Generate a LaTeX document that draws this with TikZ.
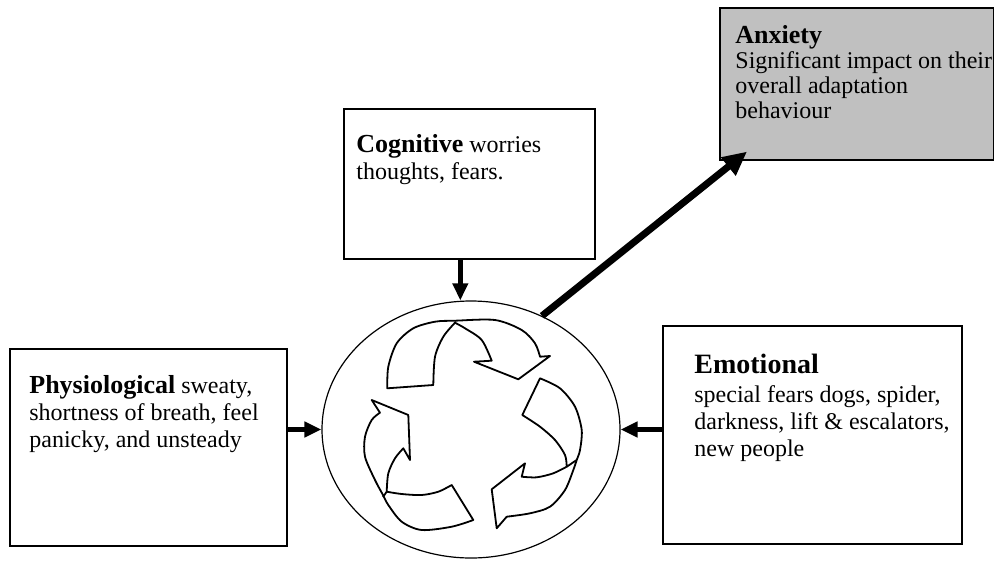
\documentclass[tikz,border=0pt]{standalone}
\usepackage{fontspec}
\setmainfont{Liberation Serif}
\usetikzlibrary{arrows.meta,shapes.geometric,positioning}
\definecolor{anxgray}{RGB}{192,192,192}
\newcommand{\hd}[1]{{\fontsize{13}{13.5}\selectfont\bfseries #1}}
\tikzset{
  box/.style={draw, line width=0.8pt, inner sep=0pt, anchor=north west},
  txt/.style={inner sep=0pt, anchor=north west, align=left, font=\fontsize{12}{13.5}\selectfont},
  arr/.style={line width=2.5pt, -{Triangle[length=8.5pt,width=7.5pt]}},
  bigarr/.style={line width=3.5pt, -{Triangle[length=12pt,width=11pt]}},
  recyc/.style={line width=0.9pt, line join=round, fill=white}
}

\begin{document}
\begin{tikzpicture}[x=0.5pt,y=-0.5pt]
	%%%%% START %%%%%
	\useasboundingbox (0,0) rectangle (994,562);
	
	\node[box, minimum width=138.5pt, minimum height=98.5pt] (phys) at (9,348) {};
	\node[txt] (physt) at (29,375) {\hd{Physiological} sweaty,\\ shortness of breath, feel\\ panicky, and unsteady};
	
	\node[box, minimum width=125.5pt, minimum height=75pt] (cog) at (343,108) {};
	\node[txt] (cogt) at (356,134) {\hd{Cognitive} worries\\ thoughts, fears.};
	
	\node[box, fill=anxgray, minimum width=137pt, minimum height=76pt] (anx) at (719,7) {};
	\node[txt, font=\fontsize{12}{12.5}\selectfont] (anxt) at (735,25) {\hd{Anxiety}\\ Significant impact on their\\ overall adaptation\\ behaviour};
	
	\node[box, minimum width=149.5pt, minimum height=109pt] (emo) at (662,325) {};
	\node[txt] (emot) at (694,354) {{\fontsize{14}{14}\selectfont\bfseries Emotional}\\[1pt] special fears dogs, spider,\\ darkness, lift \& escalators,\\ new people};
	
	\node[draw, ellipse, line width=0.6pt, inner sep=0pt, minimum width=149pt, minimum height=128.5pt] (cyc) at (471,429.5) {};
	
	% recycling arrows
	\draw[recyc] (387.3,388.3) -- plot[smooth] coordinates {(387.3,388.3) (388.3,366.7) (396.7,343.3) (413.3,328.3) (435,321.7) (455,320.7) (495,320) (521.7,330) (535,343.3) (540,356.7)}
		-- (550,356) -- (518.3,379.3) -- (474,361.7)
		-- plot[smooth] coordinates {(491.7,360.7) (481.7,340) (465,328.3) (455,322.7)}
		-- plot[smooth] coordinates {(455,322.7) (443.3,336.7) (435,356.7) (433.3,385)} -- cycle;
	
	\draw[recyc] (540,378.3) -- plot[smooth] coordinates {(540,378.3) (560,388.3) (575,406.7) (581.7,430) (580,450) (576.7,460) (573.3,470) (565,490) (550,506.7) (530,513.3) (506.7,516.7)}
		-- (496.7,528.3) -- (491.7,489.3) -- (525,463.3)
		-- plot[smooth] coordinates {(521.7,476.7) (536.7,477.3) (553.3,473.3) (566.7,466.7)}
		-- plot[smooth] coordinates {(566.7,466.7) (565,455) (555,440) (540,426.7) (522.3,415)} -- cycle;
	\draw[recyc] (566.7,466.7) -- (576.7,460);
	
	\draw[recyc] (473.3,520) -- plot[smooth] coordinates {(473.3,520) (451.7,526.7) (421.7,530) (401.7,521.7) (388.3,505) (383,495) (375,480) (365,456.7) (365,436.7) (371.7,420) (380,412.7)}
		-- (371.7,400) -- (408.3,415) -- (410,460)
		-- plot[smooth] coordinates {(403.3,448.3) (395,458.3) (388.3,473.3) (386.7,491.7)}
		-- plot[smooth] coordinates {(386.7,491.7) (401.7,494) (421.7,495) (438.3,491.7) (451.7,485)} -- cycle;
	\draw[recyc] (386.7,491.7) -- (383,497);
	
	% arrows into and out of the cycle
	\draw[arr] ([xshift=-4.5pt]cog.south) -- ([xshift=-4.5pt]cog.south |- cyc.north);
	\draw[arr] (phys.east |- cyc.west) -- (cyc.west);
	\draw[arr] (emo.west |- cyc.east) -- (cyc.east);
	\draw[bigarr] (cyc.58) -- ([shift={(14pt,4.5pt)}]anx.south west);
	%%%%% END %%%%%
\end{tikzpicture}
\end{document}
